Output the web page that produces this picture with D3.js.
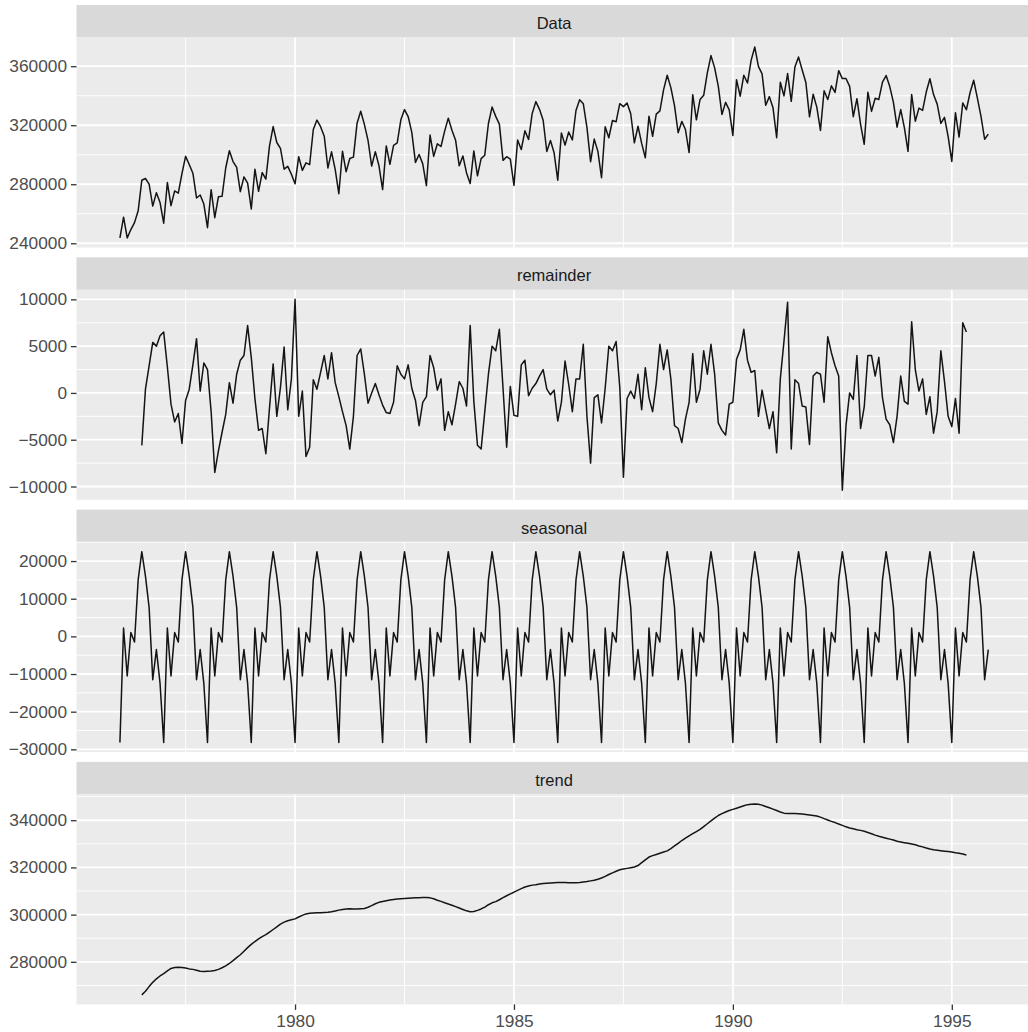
<!DOCTYPE html>
<html><head><meta charset="utf-8">
<script src="https://cdn.jsdelivr.net/npm/d3@7"></script>
<style>body{margin:0;background:#fff;} svg{display:block;font-family:"Liberation Sans",Arial,sans-serif;}</style>
</head><body><svg id="chart" width="1028" height="1032"></svg>
<script>
// ---- data (monthly, first value = Jan 1976) ----
const dataStart = 1976;        // Data and seasonal start Jan 1976
const componentStart = 1976.5; // trend and remainder start Jul 1976
const dataValues = [
243600,257700,243600,249300,254000,262000,282700,283900,280100,265200,274300,267600,
253600,281200,265500,275500,274000,287200,298900,293400,287500,270700,272700,266600,
250600,276300,257300,271600,271800,291000,302700,295400,291500,275000,285000,280700,
263300,290200,275200,287900,283500,306000,319100,308300,304300,290200,292100,286800,
280300,298700,289400,294500,293300,317100,323500,319000,312600,291000,302000,290100,
273600,302400,288400,297500,298400,321400,329500,320600,309700,292300,302100,292500,
276400,306000,293500,306400,308000,323700,330600,325900,315200,294800,300200,293800,
279000,313300,298900,307400,305600,316000,324800,316600,309900,292500,299200,287700,
280500,302600,285700,297400,299700,321200,332300,326000,320800,296200,298700,297000,
279200,310000,303500,316200,310300,328000,336000,330800,323400,302200,309700,301300,
282700,314800,306500,315400,310000,330000,337300,334600,318500,295300,310600,302300,
284400,318900,311500,323200,322400,334600,332600,335000,327800,308100,319300,307700,
298000,326100,312500,327500,329700,344000,353900,345500,333300,314900,322600,317100,
301500,340700,323700,337500,340300,355500,367200,358900,346500,327300,335500,330400,
313000,350900,339700,353900,348600,364000,373000,359900,354800,333500,339400,331800,
311500,349100,339900,355000,336200,359500,366200,357400,349000,325700,341000,332300,
316500,343400,337400,346700,342200,357000,351600,351700,346300,325800,338000,320600,
307100,342400,329400,338300,337500,349200,353700,346200,335500,318700,330600,318400,
302300,340800,322700,331600,330100,342500,351500,340800,334300,321200,325400,312300,
295500,328500,312000,335100,330500,342000,350500,338500,326000,310500,314000];

const remainderValues = [
-5600,400,2900,5400,5000,6100,6500,2800,-1200,-3100,-2200,-5400,
-800,400,3000,5800,200,3200,2500,-2000,-8500,-6200,-4200,-2300,
1100,-1100,2000,3500,4000,7200,3800,-600,-4000,-3800,-6500,-1600,
3100,-2500,600,4900,-1800,1500,10000,-2500,200,-6800,-5800,1400,
400,2200,4000,1500,4300,1100,-400,-2000,-3500,-6000,-2500,4000,
4700,2000,-1100,0,1000,-200,-1300,-2100,-2200,-1000,2900,2000,
1500,3000,500,-800,-3500,-1000,-400,4000,2700,300,1500,-4000,
-2000,-3400,-1200,1200,500,-1400,7200,-900,-5600,-6000,-2000,2000,
5000,4500,6800,500,-5800,700,-2400,-2500,3000,3500,-300,500,
1000,1800,2500,400,-200,300,-3000,-1000,3400,900,-2000,1500,
1500,5200,-2500,-7500,-500,-200,-3200,500,5000,4500,5500,600,
-9000,-600,200,-600,2000,-1800,2700,-500,-2000,1000,5200,2500,
4600,1500,-3500,-3800,-5300,-2800,-1000,4200,-1000,400,4500,2000,
5200,2000,-3200,-4000,-4500,-1200,-1000,3600,4600,6800,3500,2200,
2400,-2500,300,-1800,-3800,-2000,-6400,1500,5500,9700,-6000,1400,
1000,-1400,-1500,-5500,1800,2200,2000,-1000,6000,4300,2900,1800,
-10400,-3500,0,-700,4000,-3800,-1500,4000,4000,1800,3800,-500,
-2800,-3400,-5300,-2500,1800,-900,-1200,7600,2500,200,1500,-2300,
-400,-4300,-2000,4500,1200,-2500,-3600,-600,-4300,7500,6500];

const seasonalValues = [
-28200,2200,-10500,1000,-1500,15000,22500,16000,7700,-11500,-3500,-12500,
-28200,2200,-10500,1000,-1500,15000,22500,16000,7700,-11500,-3500,-12500,
-28200,2200,-10500,1000,-1500,15000,22500,16000,7700,-11500,-3500,-12500,
-28200,2200,-10500,1000,-1500,15000,22500,16000,7700,-11500,-3500,-12500,
-28200,2200,-10500,1000,-1500,15000,22500,16000,7700,-11500,-3500,-12500,
-28200,2200,-10500,1000,-1500,15000,22500,16000,7700,-11500,-3500,-12500,
-28200,2200,-10500,1000,-1500,15000,22500,16000,7700,-11500,-3500,-12500,
-28200,2200,-10500,1000,-1500,15000,22500,16000,7700,-11500,-3500,-12500,
-28200,2200,-10500,1000,-1500,15000,22500,16000,7700,-11500,-3500,-12500,
-28200,2200,-10500,1000,-1500,15000,22500,16000,7700,-11500,-3500,-12500,
-28200,2200,-10500,1000,-1500,15000,22500,16000,7700,-11500,-3500,-12500,
-28200,2200,-10500,1000,-1500,15000,22500,16000,7700,-11500,-3500,-12500,
-28200,2200,-10500,1000,-1500,15000,22500,16000,7700,-11500,-3500,-12500,
-28200,2200,-10500,1000,-1500,15000,22500,16000,7700,-11500,-3500,-12500,
-28200,2200,-10500,1000,-1500,15000,22500,16000,7700,-11500,-3500,-12500,
-28200,2200,-10500,1000,-1500,15000,22500,16000,7700,-11500,-3500,-12500,
-28200,2200,-10500,1000,-1500,15000,22500,16000,7700,-11500,-3500,-12500,
-28200,2200,-10500,1000,-1500,15000,22500,16000,7700,-11500,-3500,-12500,
-28200,2200,-10500,1000,-1500,15000,22500,16000,7700,-11500,-3500,-12500,
-28200,2200,-10500,1000,-1500,15000,22500,16000,7700,-11500,-3500];

const trendValues = [
266000,267500,269500,271300,272800,274000,275000,276200,277200,277600,277700,277600,
277400,277000,276800,276400,276000,275900,276000,276100,276300,276800,277500,278300,
279300,280500,281800,283000,284500,286000,287400,288600,289700,290700,291500,292600,
293700,294800,296000,296800,297400,297800,298200,299000,299700,300300,300600,300700,
300800,300800,300900,301000,301200,301500,301900,302200,302400,302500,302400,302400,
302500,302600,303100,303800,304600,305200,305600,305900,306200,306400,306600,306700,
306800,306900,307000,307100,307200,307300,307300,307100,306700,306100,305600,305000,
304500,304000,303400,302800,302200,301600,301200,301300,301800,302400,303200,304200,
305000,305500,306300,307200,308000,308800,309500,310300,311000,311700,312100,312500,
312700,313000,313200,313300,313400,313500,313600,313600,313600,313500,313500,313500,
313600,313800,314000,314300,314600,315000,315500,316200,317000,317700,318400,319000,
319300,319600,319900,320200,320800,322000,323200,324400,325000,325500,326000,326500,
327000,328000,329100,330200,331400,332400,333400,334300,335200,336100,337300,338500,
339700,340900,342000,342800,343500,344100,344600,345100,345600,346100,346600,346800,
346900,346800,346400,345800,345300,344700,344100,343500,343000,342900,342800,342800,
342700,342600,342400,342200,342000,341800,341300,340700,340100,339500,339000,338400,
337800,337200,336700,336400,336000,335700,335300,334800,334300,333700,333200,332800,
332400,332000,331600,331100,330800,330500,330200,329900,329600,329100,328700,328200,
327800,327500,327300,327100,326900,326700,326500,326200,326000,325700,325300];

const panelTitles = ["Data", "remainder", "seasonal", "trend"];
const xTicks = [1980, 1985, 1990, 1995];
const dataTicks = [240000, 280000, 320000, 360000];
const remainderTicks = [-10000, -5000, 0, 5000, 10000];
const seasonalTicks = [-30000, -20000, -10000, 0, 10000, 20000];
const trendTicks = [280000, 300000, 320000, 340000];

// ---- layout ----
const plotLeft = 76.5, plotRight = 1031.7;
const stripTop0 = 5, panelStep = 252.3, stripH = 32.5, plotH = 210;
const stripFont = 16.5, axisFont = 17.3;

const panels = [
  {title: panelTitles[0], values: dataValues, start: dataStart, ticks: dataTicks},
  {title: panelTitles[1], values: remainderValues, start: componentStart, ticks: remainderTicks},
  {title: panelTitles[2], values: seasonalValues, start: dataStart, ticks: seasonalTicks},
  {title: panelTitles[3], values: trendValues, start: componentStart, ticks: trendTicks}
];

const svg = d3.select("#chart");
const fmt = d3.format("d");

const tExt = [dataStart, dataStart + (dataValues.length - 1) / 12];
const tPad = (tExt[1] - tExt[0]) * 0.05;
const x = d3.scaleLinear().domain([tExt[0] - tPad, tExt[1] + tPad]).range([plotLeft, plotRight]);

function minorOf(ticks, domain) {
  const step = ticks[1] - ticks[0];
  const c = ticks.map(t => t - step / 2).concat([ticks[ticks.length - 1] + step / 2]);
  const lo = Math.min(domain[0], domain[1]), hi = Math.max(domain[0], domain[1]);
  return c.filter(v => v >= lo && v <= hi);
}
const xMinor = minorOf(xTicks, x.domain());

let lastBottom = 0;
panels.forEach((p, k) => {
  const top = stripTop0 + k * panelStep;
  const pTop = top + stripH, pBot = pTop + plotH;
  lastBottom = pBot;
  const ext = d3.extent(p.values);
  const pad = (ext[1] - ext[0]) * 0.05;
  const y = d3.scaleLinear().domain([ext[0] - pad, ext[1] + pad]).range([pBot, pTop]);
  const g = svg.append("g");

  // strip
  g.append("rect").attr("x", plotLeft).attr("y", top).attr("width", plotRight - plotLeft)
    .attr("height", stripH).attr("fill", "#D9D9D9");
  g.append("text").attr("x", (plotLeft + plotRight) / 2).attr("y", top + 24)
    .attr("text-anchor", "middle").attr("font-size", stripFont).attr("fill", "#1A1A1A").text(p.title);

  // panel background
  g.append("rect").attr("x", plotLeft).attr("y", pTop).attr("width", plotRight - plotLeft)
    .attr("height", plotH).attr("fill", "#EBEBEB");

  const yMinor = minorOf(p.ticks, y.domain());
  // minor grid
  g.selectAll(".hmin").data(yMinor).join("line")
    .attr("x1", plotLeft).attr("x2", plotRight).attr("y1", d => y(d)).attr("y2", d => y(d))
    .attr("stroke", "#fff").attr("stroke-width", 0.9);
  g.selectAll(".vmin").data(xMinor).join("line")
    .attr("x1", d => x(d)).attr("x2", d => x(d)).attr("y1", pTop).attr("y2", pBot)
    .attr("stroke", "#fff").attr("stroke-width", 0.9);
  // major grid
  g.selectAll(".hmaj").data(p.ticks).join("line")
    .attr("x1", plotLeft).attr("x2", plotRight).attr("y1", d => y(d)).attr("y2", d => y(d))
    .attr("stroke", "#fff").attr("stroke-width", 1.8);
  g.selectAll(".vmaj").data(xTicks).join("line")
    .attr("x1", d => x(d)).attr("x2", d => x(d)).attr("y1", pTop).attr("y2", pBot)
    .attr("stroke", "#fff").attr("stroke-width", 1.8);

  // series line
  const line = d3.line().x((d, i) => x(p.start + i / 12)).y(d => y(d));
  g.append("path").datum(p.values).attr("d", line).attr("fill", "none")
    .attr("stroke", "#141414").attr("stroke-width", 1.5).attr("stroke-linejoin", "round");

  // y axis
  const ax = g.append("g").attr("transform", `translate(${plotLeft},0)`)
    .call(d3.axisLeft(y).tickValues(p.ticks).tickSize(5.5).tickPadding(4).tickFormat(fmt));
  ax.select(".domain").remove();
  ax.selectAll(".tick line").attr("stroke", "#333333").attr("stroke-width", 1.3);
  ax.selectAll(".tick text").attr("fill", "#4D4D4D").attr("font-size", axisFont)
    .attr("font-family", '"Liberation Sans", Arial, sans-serif');
});

const xa = svg.append("g").attr("transform", `translate(0,${lastBottom})`)
  .call(d3.axisBottom(x).tickValues(xTicks).tickSize(5.5).tickPadding(4.5).tickFormat(fmt));
xa.select(".domain").remove();
xa.selectAll(".tick line").attr("stroke", "#333333").attr("stroke-width", 1.3);
xa.selectAll(".tick text").attr("fill", "#4D4D4D").attr("font-size", axisFont)
  .attr("font-family", '"Liberation Sans", Arial, sans-serif');
</script></body></html>
